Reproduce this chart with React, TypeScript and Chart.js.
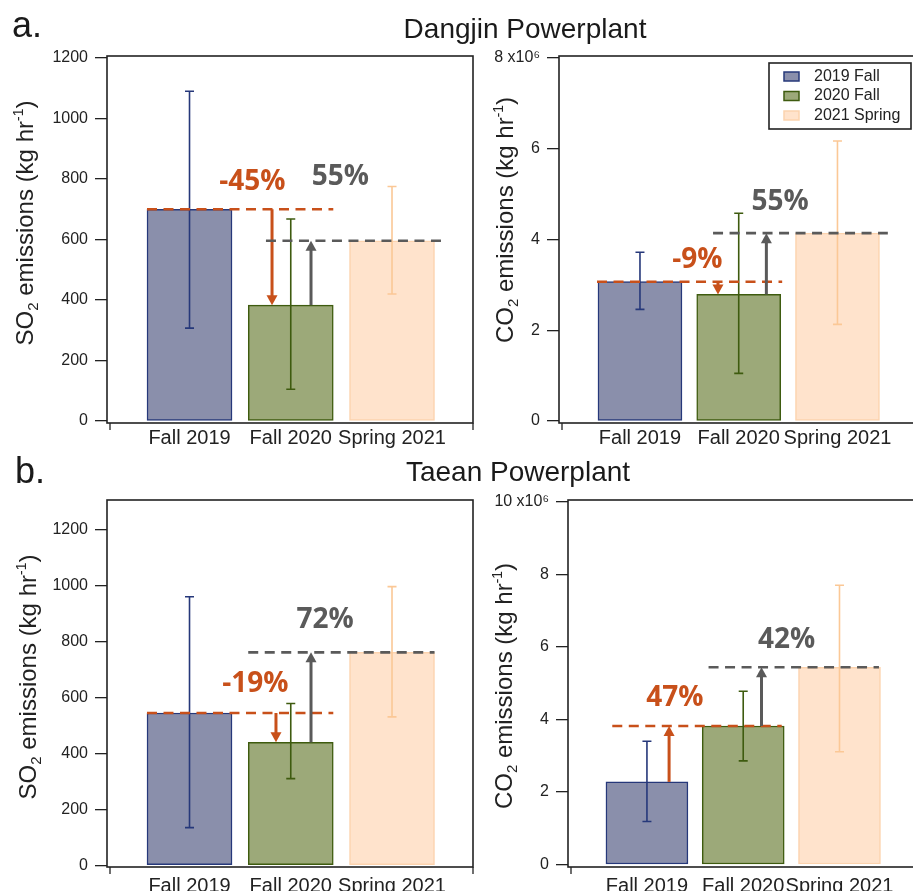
import React, { useEffect, useRef } from "react";
import { Chart, registerables } from "chart.js";

Chart.register(...registerables);

// ---------------- data ----------------
const categories = ["Fall 2019", "Fall 2020", "Spring 2021"];
const seriesNames = ["2019 Fall", "2020 Fall", "2021 Spring"];
const panelLetters = ["a.", "b."];
const panelTitles = ["Dangjin Powerplant", "Taean Powerplant"];

const dangjinSO2 = [700, 383, 596];
const dangjinSO2Low = [307, 105, 420];
const dangjinSO2High = [1090, 668, 775];

const dangjinCO2 = [3.07e6, 2.79e6, 4.14e6];
const dangjinCO2Low = [2.46e6, 1.05e6, 2.13e6];
const dangjinCO2High = [3.72e6, 4.58e6, 6.17e6];

const taeanSO2 = [545, 440, 762];
const taeanSO2Low = [135, 310, 531];
const taeanSO2High = [961, 579, 997];

const taeanCO2 = [2.28e6, 3.82e6, 5.44e6];
const taeanCO2Low = [1.19e6, 2.86e6, 3.11e6];
const taeanCO2High = [3.4e6, 4.78e6, 7.7e6];

const so2Ticks = [0, 200, 400, 600, 800, 1000, 1200];
const co2TicksDangjin = [0, 2e6, 4e6, 6e6, 8e6];
const co2TicksTaean = [0, 2e6, 4e6, 6e6, 8e6, 10e6];

const dangjinSO2Changes = ["-45%", "55%"];
const dangjinCO2Changes = ["-9%", "55%"];
const taeanSO2Changes = ["-19%", "72%"];
const taeanCO2Changes = ["47%", "42%"];

// ---------------- styles ----------------
const FONT = "'Liberation Sans', Arial, Helvetica, sans-serif";
const BOLD_FONT = "'Open Sans', 'Liberation Sans', sans-serif";
const FILL = ["#8A8FAB", "#9CA979", "#FFE3CC"];
const EDGE = ["#26387A", "#3E5B0F", "#FCD3AE"];
const ERR = ["#26387A", "#3E5B0F", "#FBC896"];
const ORANGE = "#C8501A";
const GRAY = "#5A5A5A";
const INK = "#222222";
const XH = 34;

type Rect = { left: number; top: number; width: number; height: number };
type Panel = {
  values: number[];
  low: number[];
  high: number[];
  ticks: number[];
  changes: string[];
  gas: string;
  mega: boolean;
  canvas: Rect;
  plot: { l: number; t: number; r: number; b: number };
  yMin: number;
  yMax: number;
  xMin: number;
  xMax: number;
  barW: number;
  labelPad: number;
  titlePos: { x: number; y: number };
  ann: {
    oDash: number[];
    oArrowX: number;
    oLabel: number[];
    gDash: number[];
    gArrowX: number;
    gLabel: number[];
  };
  legend: boolean;
};

const panels: Panel[] = [
  {
    values: dangjinSO2, low: dangjinSO2Low, high: dangjinSO2High, ticks: so2Ticks,
    changes: dangjinSO2Changes, gas: "SO", mega: false,
    canvas: { left: 0, top: 32, width: 480, height: 440 },
    plot: { l: 107, t: 56, r: 473, b: 423 },
    yMin: -6.6, yMax: 1206.6, xMin: -0.815, xMax: 2.8, barW: 85, labelPad: 3,
    titlePos: { x: 33, y: 223 },
    ann: { oDash: [-0.42, 1.42], oArrowX: 0.815, oLabel: [0.62, 790], gDash: [0.755, 2.49], gArrowX: 1.2, gLabel: [1.49, 805] },
    legend: false,
  },
  {
    values: dangjinCO2, low: dangjinCO2Low, high: dangjinCO2High, ticks: co2TicksDangjin,
    changes: dangjinCO2Changes, gas: "CO", mega: true,
    canvas: { left: 470, top: 32, width: 446, height: 440 },
    plot: { l: 559, t: 56, r: 914, b: 423 },
    yMin: -0.044e6, yMax: 8.044e6, xMin: -0.82, xMax: 2.775, barW: 84, labelPad: 3,
    titlePos: { x: 513, y: 220 },
    ann: { oDash: [-0.435, 1.44], oArrowX: 0.79, oLabel: [0.58, 3.55e6], gDash: [0.74, 2.51], gArrowX: 1.28, gLabel: [1.42, 4.83e6] },
    legend: true,
  },
  {
    values: taeanSO2, low: taeanSO2Low, high: taeanSO2High, ticks: so2Ticks,
    changes: taeanSO2Changes, gas: "SO", mega: false,
    canvas: { left: 0, top: 476, width: 480, height: 440 },
    plot: { l: 107, t: 500, r: 473, b: 867 },
    yMin: -6, yMax: 1307, xMin: -0.815, xMax: 2.8, barW: 85, labelPad: 7,
    titlePos: { x: 36, y: 677 },
    ann: { oDash: [-0.42, 1.42], oArrowX: 0.854, oLabel: [0.65, 650], gDash: [0.58, 2.42], gArrowX: 1.2, gLabel: [1.34, 878] },
    legend: false,
  },
  {
    values: taeanCO2, low: taeanCO2Low, high: taeanCO2High, ticks: co2TicksTaean,
    changes: taeanCO2Changes, gas: "CO", mega: true,
    canvas: { left: 470, top: 476, width: 446, height: 440 },
    plot: { l: 568, t: 500, r: 914, b: 867 },
    yMin: -0.066e6, yMax: 10.05e6, xMin: -0.82, xMax: 2.774, barW: 82, labelPad: 7,
    titlePos: { x: 512, y: 686 },
    ann: { oDash: [-0.36, 1.4], oArrowX: 0.23, oLabel: [0.29, 4.59e6], gDash: [0.64, 2.41], gArrowX: 1.19, gLabel: [1.45, 6.18e6] },
    legend: false,
  },
];

type Seg = { t: string; size: number; dy: number };

function drawRichVertical(ctx: CanvasRenderingContext2D, segs: Seg[], bx: number, cy: number) {
  ctx.save();
  ctx.translate(bx, cy);
  ctx.rotate(-Math.PI / 2);
  ctx.textBaseline = "alphabetic";
  ctx.textAlign = "left";
  ctx.fillStyle = INK;
  let total = 0;
  const widths: number[] = [];
  for (const s of segs) {
    ctx.font = `${s.size}px ${FONT}`;
    const w = ctx.measureText(s.t).width;
    widths.push(w);
    total += w;
  }
  let x = -total / 2;
  segs.forEach((s, i) => {
    ctx.font = `${s.size}px ${FONT}`;
    ctx.fillText(s.t, x, s.dy);
    x += widths[i];
  });
  ctx.restore();
}

function drawArrow(ctx: CanvasRenderingContext2D, x: number, y0: number, y1: number, color: string) {
  const dir = y1 > y0 ? 1 : -1;
  const head = 10;
  const half = 5.5;
  const shaftEnd = y1 - dir * head;
  ctx.strokeStyle = color;
  ctx.fillStyle = color;
  ctx.lineWidth = 3;
  ctx.setLineDash([]);
  if ((shaftEnd - y0) * dir > 0) {
    ctx.beginPath();
    ctx.moveTo(x, y0);
    ctx.lineTo(x, shaftEnd + dir * 1);
    ctx.stroke();
  }
  ctx.beginPath();
  ctx.moveTo(x, y1);
  ctx.lineTo(x - half, shaftEnd);
  ctx.lineTo(x + half, shaftEnd);
  ctx.closePath();
  ctx.fill();
}

function makeDecor(p: Panel) {
  return {
    id: "panelDecor",
    afterDatasetsDraw(chart: any) {
      const ctx: CanvasRenderingContext2D = chart.ctx;
      const xs = chart.scales.x;
      const ys = chart.scales.y;
      const ca = chart.chartArea;
      ctx.save();

      // error bars
      p.values.forEach((_v, i) => {
        const x = xs.getPixelForValue(i);
        const yl = ys.getPixelForValue(p.low[i]);
        const yh = ys.getPixelForValue(p.high[i]);
        ctx.strokeStyle = ERR[i];
        ctx.lineWidth = 1.6;
        ctx.setLineDash([]);
        ctx.beginPath();
        ctx.moveTo(x, yh);
        ctx.lineTo(x, yl);
        ctx.moveTo(x - 4.5, yh);
        ctx.lineTo(x + 4.5, yh);
        ctx.moveTo(x - 4.5, yl);
        ctx.lineTo(x + 4.5, yl);
        ctx.stroke();
      });

      // change annotations
      const steps = [
        { from: p.values[0], to: p.values[1], dash: p.ann.oDash, ax: p.ann.oArrowX, lab: p.ann.oLabel, text: p.changes[0], color: ORANGE },
        { from: p.values[1], to: p.values[2], dash: p.ann.gDash, ax: p.ann.gArrowX, lab: p.ann.gLabel, text: p.changes[1], color: GRAY },
      ];
      for (const s of steps) {
        const level = Math.max(s.from, s.to);
        const yd = ys.getPixelForValue(level);
        ctx.strokeStyle = s.color;
        ctx.lineWidth = 2.6;
        ctx.setLineDash([10, 6.5]);
        ctx.beginPath();
        ctx.moveTo(xs.getPixelForValue(s.dash[0]), yd);
        ctx.lineTo(xs.getPixelForValue(s.dash[1]), yd);
        ctx.stroke();
        ctx.setLineDash([]);
        drawArrow(ctx, xs.getPixelForValue(s.ax), ys.getPixelForValue(s.from), ys.getPixelForValue(s.to), s.color);
        ctx.fillStyle = s.color;
        ctx.font = `700 28px ${BOLD_FONT}`;
        ctx.textAlign = "center";
        ctx.textBaseline = "middle";
        ctx.fillText(s.text, xs.getPixelForValue(s.lab[0]), ys.getPixelForValue(s.lab[1]));
      }

      // frame
      ctx.setLineDash([]);
      ctx.strokeStyle = INK;
      ctx.lineWidth = 1.6;
      ctx.strokeRect(ca.left, ca.top, ca.right - ca.left, ca.bottom - ca.top);
      ctx.lineWidth = 1.3;
      ctx.beginPath();
      ctx.moveTo(ca.left + 3, ca.bottom);
      ctx.lineTo(ca.left + 3, ca.bottom + 7);
      ctx.moveTo(ca.right, ca.bottom);
      ctx.lineTo(ca.right, ca.bottom + 7);
      ctx.stroke();

      // y axis title
      drawRichVertical(
        ctx,
        [
          { t: p.gas, size: 24, dy: 0 },
          { t: "2", size: 15, dy: 5 },
          { t: " emissions (kg hr", size: 24, dy: 0 },
          { t: "-1", size: 14, dy: -10 },
          { t: ")", size: 24, dy: 0 },
        ],
        p.titlePos.x - p.canvas.left,
        p.titlePos.y - p.canvas.top
      );

      // legend
      if (p.legend) {
        const ox = p.canvas.left;
        const oy = p.canvas.top;
        ctx.fillStyle = "#ffffff";
        ctx.fillRect(769 - ox, 63 - oy, 142, 66);
        ctx.strokeStyle = INK;
        ctx.lineWidth = 1.6;
        ctx.strokeRect(769 - ox, 63 - oy, 142, 66);
        const rows = [76.5, 96, 115.5];
        seriesNames.forEach((name, i) => {
          const cy = rows[i] - oy;
          ctx.fillStyle = FILL[i];
          ctx.fillRect(784 - ox, cy - 4.5, 15, 9);
          ctx.strokeStyle = EDGE[i];
          ctx.lineWidth = 1.5;
          ctx.strokeRect(784 - ox, cy - 4.5, 15, 9);
          ctx.fillStyle = INK;
          ctx.font = `16px ${FONT}`;
          ctx.textAlign = "left";
          ctx.textBaseline = "middle";
          ctx.fillText(name, 814 - ox, cy);
        });
      }
      ctx.restore();
    },
  };
}

function buildConfig(p: Panel): any {
  const c = p.canvas;
  const lastTick = p.ticks[p.ticks.length - 1];
  return {
    type: "bar",
    data: {
      datasets: seriesNames.map((name, i) => ({
        label: name,
        data: [{ x: i, y: p.values[i] }],
        backgroundColor: FILL[i],
        borderColor: EDGE[i],
        borderWidth: 1.5,
        borderSkipped: false,
        barThickness: p.barW,
        grouped: false,
      })),
    },
    options: {
      responsive: false,
      animation: false,
      devicePixelRatio: 1,
      layout: {
        padding: {
          left: 0,
          top: p.plot.t - c.top,
          right: c.left + c.width - p.plot.r,
          bottom: c.top + c.height - p.plot.b - XH,
        },
      },
      plugins: { legend: { display: false }, tooltip: { enabled: false }, title: { display: false } },
      scales: {
        x: {
          type: "linear",
          offset: false,
          min: p.xMin,
          max: p.xMax,
          afterBuildTicks: (s: any) => {
            s.ticks = categories.map((_c, i) => ({ value: i }));
          },
          afterFit: (s: any) => {
            s.height = XH;
          },
          ticks: {
            callback: (v: number) => categories[Math.round(v)],
            font: { family: FONT, size: 20 },
            color: INK,
            padding: p.labelPad,
            maxRotation: 0,
            autoSkip: false,
          },
          grid: { display: false, drawTicks: false, offset: false },
          border: { display: false },
        },
        y: {
          type: "linear",
          min: p.yMin,
          max: p.yMax,
          afterBuildTicks: (s: any) => {
            s.ticks = p.ticks.map((v) => ({ value: v }));
          },
          afterFit: (s: any) => {
            s.width = p.plot.l - c.left;
          },
          ticks: {
            callback: (v: number) => {
              if (!p.mega) return String(v);
              const m = Math.round(v / 1e6);
              return v === lastTick ? `${m} x10\u2076` : String(m);
            },
            font: { family: FONT, size: 16 },
            color: INK,
            padding: 7,
            autoSkip: false,
          },
          grid: { drawOnChartArea: false, drawTicks: true, tickLength: 12, color: INK, lineWidth: 1.3 },
          border: { display: false },
        },
      },
    },
    plugins: [makeDecor(p)],
  };
}

function PanelChart({ p }: { p: Panel }) {
  const ref = useRef<HTMLCanvasElement | null>(null);
  useEffect(() => {
    if (!ref.current) return;
    const chart = new Chart(ref.current, buildConfig(p));
    return () => chart.destroy();
  }, [p]);
  return (
    <canvas
      ref={ref}
      width={p.canvas.width}
      height={p.canvas.height}
      style={{ position: "absolute", left: p.canvas.left, top: p.canvas.top, width: p.canvas.width, height: p.canvas.height }}
    />
  );
}

const textBase: React.CSSProperties = {
  position: "absolute",
  fontFamily: FONT,
  color: "#1a1a1a",
  whiteSpace: "nowrap",
};

export default function App() {
  return (
    <div
      style={{ position: "absolute", left: 0, top: 0, width: 913, height: 891, overflow: "hidden", background: "#ffffff" }}
    >
      {panels.map((p, i) => (
        <PanelChart key={i} p={p} />
      ))}
      <div style={{ ...textBase, left: 12, top: 6.5, fontSize: 36, lineHeight: "36px" }}>{panelLetters[0]}</div>
      <div style={{ ...textBase, left: 525, top: 15.3, fontSize: 28, lineHeight: "28px", transform: "translateX(-50%)" }}>
        {panelTitles[0]}
      </div>
      <div style={{ ...textBase, left: 15, top: 452.5, fontSize: 36, lineHeight: "36px" }}>{panelLetters[1]}</div>
      <div style={{ ...textBase, left: 518, top: 458.3, fontSize: 28, lineHeight: "28px", transform: "translateX(-50%)" }}>
        {panelTitles[1]}
      </div>
    </div>
  );
}
